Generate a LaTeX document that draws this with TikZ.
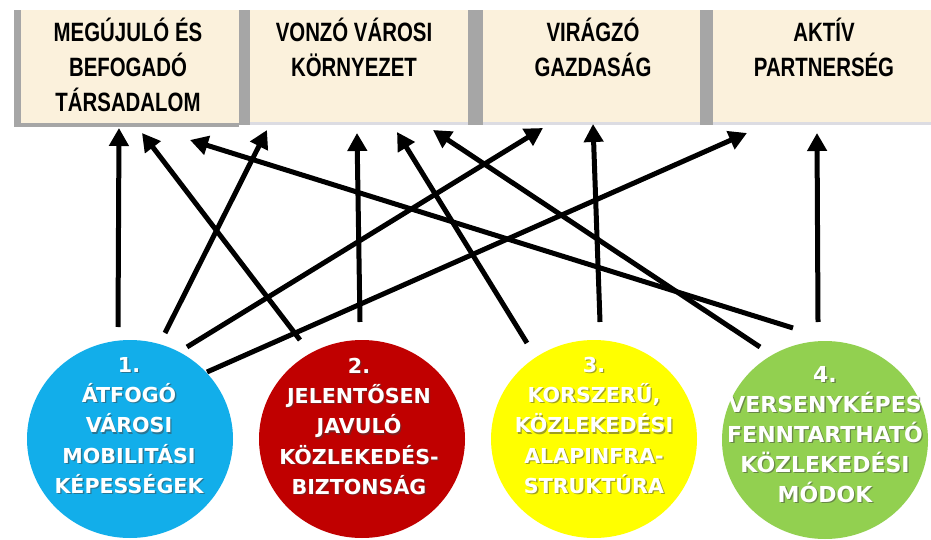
\documentclass[tikz,border=0pt]{standalone}
\usepackage{fontspec}
\usetikzlibrary{arrows.meta,shapes.geometric}
\newfontfamily\boxfont{Liberation Sans}[FakeStretch=0.77]
\newfontfamily\circfont{DejaVu Sans}
\definecolor{cream}{HTML}{FBF1DC}
\definecolor{shadegray}{HTML}{A6A6A6}
\definecolor{lightline}{HTML}{DCDCE2}
\definecolor{cblue}{HTML}{12AEEA}
\definecolor{cred}{HTML}{C00000}
\definecolor{cyellow}{HTML}{FFFF00}
\definecolor{cgreen}{HTML}{92D050}
\begin{document}
\begin{tikzpicture}[x=1pt,y=-1pt,
  boxnode/.style={rectangle, fill=cream, inner sep=0pt, outer sep=0pt},
  boxtext/.style={anchor=north, inner sep=0pt, align=center, text=black,
    font={\boxfont\bfseries\fontsize{26.5}{35}\selectfont}},
  disc/.style={ellipse, inner sep=0pt, outer sep=0pt, minimum width=206pt, minimum height=198pt},
  disctext/.style={anchor=north, inner sep=0pt, align=center, text=white,
    font={\circfont\bfseries\fontsize{20.6}{30.3}\selectfont}},
  bigdisctext/.style={disctext, font={\circfont\bfseries\fontsize{22}{30}\selectfont}},
  discshadow/.style={text=black!75, opacity=0.5},
  arr/.style={line width=5pt, draw=black, -{Triangle[length=18pt,width=19pt]}},
]
\useasboundingbox (0,0) rectangle (931,540);
\fill[white] (0,0) rectangle (931,540);

% top boxes
\fill[shadegray] (14,10) rectangle (239,127);
\node[boxnode, minimum width=218pt, minimum height=113pt] (b1) at (130,66.5) {};
\fill[shadegray] (239,10) rectangle (250,125);
\fill[lightline] (250,122) rectangle (468,125);
\node[boxnode, minimum width=218pt, minimum height=112pt] (b2) at (359,66) {};
\fill[shadegray] (468,10) rectangle (483,125);
\fill[lightline] (483,122) rectangle (700,125);
\node[boxnode, minimum width=217pt, minimum height=112pt] (b3) at (591.5,66) {};
\fill[shadegray] (700,10) rectangle (713,125);
\fill[lightline] (713,122) rectangle (931,125);
\node[boxnode, minimum width=218pt, minimum height=112pt] (b4) at (822,66) {};

\node[boxtext] (t1) at (128,14.5) {\rule{0pt}{1em}MEGÚJULÓ ÉS\\BEFOGADÓ\\TÁRSADALOM};
\node[boxtext] (t2) at (354,14.5) {\rule{0pt}{1em}VONZÓ VÁROSI\\KÖRNYEZET};
\node[boxtext] (t3) at (593,14.5) {\rule{0pt}{1em}VIRÁGZÓ\\GAZDASÁG};
\node[boxtext] (t4) at (824,14.5) {\rule{0pt}{1em}AKTÍV\\PARTNERSÉG};

% arrow end points
\coordinate (As) at (118,327); \coordinate (Ae) at (119,128);
\coordinate (Bs) at (300,340); \coordinate (Be) at (142,133);
\coordinate (Cs) at (793,328); \coordinate (Ce) at (190,140);
\coordinate (Ds) at (165,333); \coordinate (De) at (267,130);
\coordinate (Es) at (187,347); \coordinate (Ee) at (543,128);
\coordinate (Fs) at (207,372); \coordinate (Fe) at (747,133);
\coordinate (Gs) at (360,322); \coordinate (Ge) at (357,133);
\coordinate (Hs) at (527,343); \coordinate (He) at (397,132);
\coordinate (Is) at (760,347); \coordinate (Ie) at (433,130);
\coordinate (Js) at (600,322); \coordinate (Je) at (593,124);
\coordinate (Ks) at (818,322); \coordinate (Ke) at (817,133);

\draw[arr] (As) -- (Ae);
\draw[arr] (Bs) -- (Be);
\draw[arr] (Cs) -- (Ce);
\draw[arr] (Ds) -- (De);
\draw[arr] (Es) -- (Ee);
\draw[arr] (Fs) -- (Fe);
\draw[arr] (Gs) -- (Ge);
\draw[arr] (Hs) -- (He);
\draw[arr] (Is) -- (Ie);
\draw[arr] (Js) -- (Je);
\draw[arr] (Ks) -- (Ke);

% circles
\node[disc, fill=cblue] (c1) at (130,439) {};
\node[disc, fill=cred] (c2) at (362,439) {};
\node[disc, fill=cyellow] (c3) at (594,439) {};
\node[disc, fill=cgreen] (c4) at (825,440) {};

\node[disctext, discshadow] (s1) at (130.3,352.7) {\rule{0pt}{1em}1.\\ÁTFOGÓ\\VÁROSI\\MOBILITÁSI\\KÉPESSÉGEK};
\node[disctext] (d1) at (129,351.4) {\rule{0pt}{1em}1.\\ÁTFOGÓ\\VÁROSI\\MOBILITÁSI\\KÉPESSÉGEK};
\node[disctext, discshadow] (s2) at (360.3,353.7) {\rule{0pt}{1em}2.\\JELENTŐSEN\\JAVULÓ\\KÖZLEKEDÉS-\\BIZTONSÁG};
\node[disctext] (d2) at (359,352.4) {\rule{0pt}{1em}2.\\JELENTŐSEN\\JAVULÓ\\KÖZLEKEDÉS-\\BIZTONSÁG};
\node[disctext, discshadow] (s3) at (595.3,352.7) {\rule{0pt}{1em}3.\\KORSZERŰ,\\KÖZLEKEDÉSI\\ALAPINFRA-\\STRUKTÚRA};
\node[disctext] (d3) at (594,351.4) {\rule{0pt}{1em}3.\\KORSZERŰ,\\KÖZLEKEDÉSI\\ALAPINFRA-\\STRUKTÚRA};
\node[bigdisctext, discshadow] (s4) at (826.3,361.3) {\rule{0pt}{1em}4.\\VERSENYKÉPES\\FENNTARTHATÓ\\KÖZLEKEDÉSI\\MÓDOK};
\node[bigdisctext] (d4) at (825,360) {\rule{0pt}{1em}4.\\VERSENYKÉPES\\FENNTARTHATÓ\\KÖZLEKEDÉSI\\MÓDOK};
\end{tikzpicture}
\end{document}
